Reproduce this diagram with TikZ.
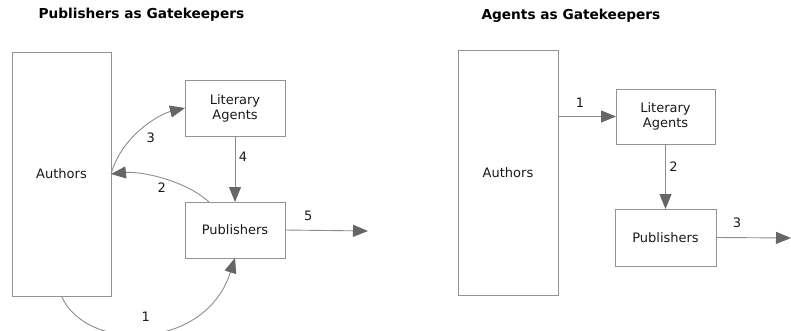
\documentclass[tikz,border=0pt]{standalone}
\usepackage{fontspec}
\setmainfont{DejaVu Sans}
\usetikzlibrary{arrows.meta}
\tikzset{
  box/.style={draw=gray!85, line width=0.8pt, inner sep=0pt, outer sep=0pt, align=center, text=black!90, font=\fontsize{13}{15}\selectfont},
  link/.style={draw=gray!90, line width=0.9pt, -{Triangle[length=15pt,width=12pt,color=black!60,fill=black!60]}},
  lbl/.style={text=black!90, font=\fontsize{13}{15}\selectfont},
  heading/.style={font=\bfseries\fontsize{13.7}{16}\selectfont, anchor=west}
}

\begin{document}
\begin{tikzpicture}[x=1pt, y=-1pt]
    \useasboundingbox (0,0) rectangle (791,331);

    % publishers as gatekeepers
    \node[heading] (titleA) at (35,15) {Publishers as Gatekeepers};
    \node[box, minimum width=99pt, minimum height=244pt] (authA) at (61.5,174) {Authors};
    \node[box, minimum width=100pt, minimum height=56pt] (litA) at (235,108) {Literary\\Agents};
    \node[box, minimum width=100pt, minimum height=56pt] (pubA) at (235,230) {Publishers};
    \coordinate (outA) at (368,231);

    \draw[link] (authA.south) .. controls (85,352) and (205,352) .. node[lbl, pos=0.5, anchor=south, yshift=8pt]{1} (pubA.south);
    \draw[link] ([xshift=-26pt]pubA.north) .. controls (185,180) and (140,171) .. node[lbl, pos=0.5, anchor=north]{2} (authA.east);
    \draw[link] (authA.east) .. controls (122,135) and (160,114) .. node[lbl, pos=0.5, anchor=north west]{3} (litA.west);
    \draw[link] (litA.south) -- node[lbl, pos=0.32, anchor=west]{4} (pubA.north);
    \draw[link] (pubA.east) -- node[lbl, pos=0.28, anchor=south, yshift=6pt]{5} (outA);

    % agents as gatekeepers
    \node[heading] (titleB) at (478,16) {Agents as Gatekeepers};
    \node[box, minimum width=100pt, minimum height=245pt] (authB) at (508,172.5) {Authors};
    \node[box, minimum width=99pt, minimum height=55pt] (litB) at (665.5,116.5) {Literary\\Agents};
    \node[box, minimum width=101pt, minimum height=57pt] (pubB) at (665.5,237.5) {Publishers};
    \coordinate (outB) at (791,238);

    \draw[link] (authB.east |- litB.west) -- node[lbl, pos=0.38, anchor=south, yshift=5pt]{1} (litB.west);
    \draw[link] (litB.south) -- node[lbl, pos=0.35, anchor=west]{2} (pubB.north);
    \draw[link] (pubB.east) -- node[lbl, pos=0.28, anchor=south, yshift=6pt]{3} (outB);
\end{tikzpicture}
\end{document}
